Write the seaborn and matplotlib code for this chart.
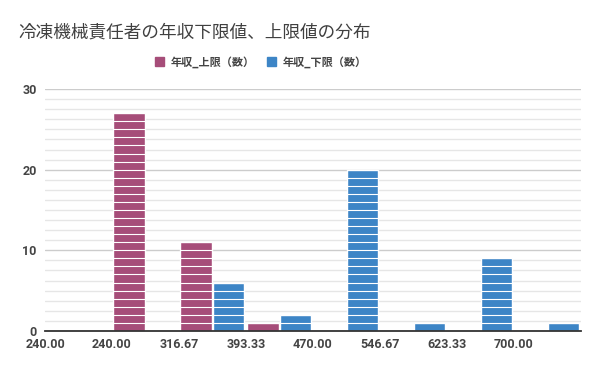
import numpy as np
import pandas as pd
import matplotlib
matplotlib.use("Agg")
import matplotlib.pyplot as plt
import matplotlib.patches as mpatches
from matplotlib.ticker import MultipleLocator
import seaborn as sns

title = "冷凍機械責任者の年収下限値、上限値の分布"
series_names = ["年収_上限（数）", "年収_下限（数）"]
bin_labels = ["240.00", "240.00", "316.67", "393.33", "470.00", "546.67", "623.33", "700.00"]
upper_counts = [0, 27, 11, 1, 0, 0, 0, 0]
lower_counts = [0, 0, 6, 2, 20, 1, 9, 1]
colors = ["#A64D79", "#3D85C6"]

sns.set_theme(style="white")
plt.rcParams["font.family"] = ["Roboto", "Noto Sans CJK JP", "DejaVu Sans"]

n = len(bin_labels)
df = pd.DataFrame({
    "bin": list(range(n)) * 2,
    "count": upper_counts + lower_counts,
    "series": [series_names[0]] * n + [series_names[1]] * n,
})

fig = plt.figure(figsize=(6, 3.71), dpi=100)
ax = fig.add_axes([0.075, 0.108, 0.893, 0.652])

sns.barplot(data=df, x="bin", y="count", hue="series", palette=colors,
            width=0.97, gap=0.03, saturation=1, legend=False, ax=ax, zorder=3)

# white separators: each bar is a stack of unit blocks
for p in ax.patches:
    h = p.get_height()
    x0 = p.get_x()
    x1 = x0 + p.get_width()
    for k in range(1, int(round(h))):
        ax.plot([x0, x1], [k, k], color="white", lw=0.8, zorder=4,
                solid_capstyle="butt")

ax.set_xlim(-0.5, n - 0.5)
ax.set_ylim(0, 30)
ax.set_xticks(np.arange(n) - 0.5)
ax.set_xticklabels(bin_labels)
ax.set_yticks([0, 10, 20, 30])
ax.yaxis.set_minor_locator(MultipleLocator(1.25))
ax.grid(axis="y", which="major", color="#cccccc", lw=1, zorder=0)
ax.grid(axis="y", which="minor", color="#e6e6e6", lw=1, zorder=0)
ax.set_axisbelow(True)
ax.tick_params(axis="both", which="both", length=0, labelsize=9, labelcolor="#444444")
ax.tick_params(axis="x", pad=5)
ax.tick_params(axis="y", pad=6)
for lab in ax.get_xticklabels() + ax.get_yticklabels():
    lab.set_fontweight("bold")
ax.set_xlabel("")
ax.set_ylabel("")
for s in ["top", "right", "left"]:
    ax.spines[s].set_visible(False)
ax.spines["bottom"].set_color("#333333")
ax.spines["bottom"].set_linewidth(1.3)
ax.spines["bottom"].set_zorder(5)

fig.text(18 / 600, 1 - 33 / 371, title, fontsize=12.7, color="#404040",
         va="center", ha="left", family=["Noto Sans CJK JP", "DejaVu Sans"])

handles = [mpatches.Patch(color=c, label=l) for c, l in zip(colors, series_names)]
leg = fig.legend(handles=handles, loc="center", bbox_to_anchor=(261 / 600, 1 - 62 / 371),
                 ncol=2, frameon=False, handlelength=0.8, handleheight=0.8,
                 handletextpad=0.6, columnspacing=1.1,
                 prop={"size": 8, "weight": "bold", "family": ["Noto Sans CJK JP", "DejaVu Sans"]})
for t in leg.get_texts():
    t.set_color("#444444")

fig.savefig("out.png", dpi=100)
